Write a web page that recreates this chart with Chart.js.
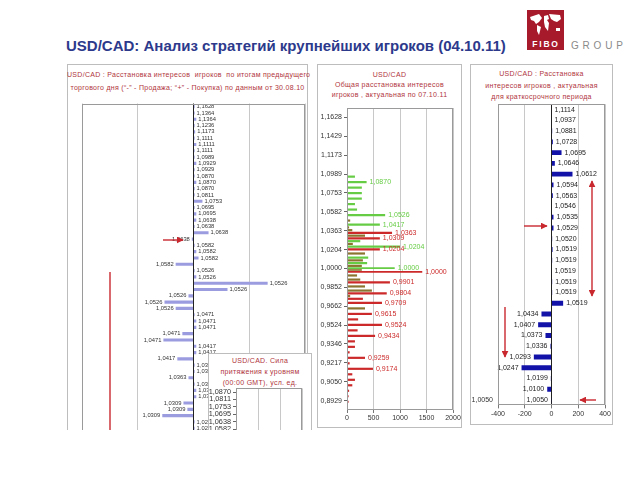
<!DOCTYPE html>
<html lang="ru">
<head>
<meta charset="UTF-8">
<meta name="viewport" content="width=device-width, initial-scale=1.0">
<title>USD/CAD: Анализ стратегий крупнейших игроков</title>
<script src="https://cdn.jsdelivr.net/npm/chart.js"></script>
<style>
  body { margin: 0; background: #fff; font-family: "Liberation Sans", Arial, sans-serif; }
  #page { position: relative; width: 640px; height: 480px; overflow: hidden; }
  #clip { position: absolute; left: 0; top: 0; width: 640px; height: 430px; overflow: hidden; }
  .box { position: absolute; box-sizing: border-box; border: 1px solid #bdbdbd; background: #fff; }
  .cap { position: absolute; color: #b0353d; font-size: 7px; text-align: center; white-space: nowrap; letter-spacing: .3px; }
  canvas { position: absolute; }
  #title { position: absolute; left: 66px; top: 37px; font-size: 15px; line-height: 18px; font-weight: bold; color: #2d3a8c; white-space: nowrap; }
  #logo { position: absolute; left: 527px; top: 10px; width: 37px; height: 40px; background: #a71a2c; }
  #group { position: absolute; left: 571px; top: 40px; font-size: 10px; letter-spacing: 3.8px; color: #8a8a8a; }
</style>
</head>
<body>
<div id="page">
  <div id="title">USD/CAD: Анализ стратегий крупнейших игроков (04.10.11)</div>
  <div id="logo">
    <svg width="37" height="40">
      <g fill="#fff">
        <path d="M3,7 L12,4 L15,8 L12,12 L9,14 L7,11 L4,10 Z"/>
        <path d="M10,15 L14,17 L12,25 L10,21 Z"/>
        <path d="M17,6 L21,5 L22,9 L20,10 L22,13 L21,21 L18,17 L17,12 Z"/>
        <path d="M22,4 L33,5 L34,9 L30,12 L27,11 L24,9 Z"/>
        <path d="M29,18 L33,18 L33,21 L29,21 Z"/>
      </g>
      <text x="19" y="37" fill="#fff" font-size="8.5" font-weight="bold" text-anchor="middle" letter-spacing="1.8" font-family="Liberation Sans, Arial">FIBO</text>
    </svg>
  </div>
  <div id="group">GROUP</div>

  <div id="clip">
    <div class="box" style="left:67px;top:64px;width:241px;height:420px"></div>
    <div class="box" style="left:317px;top:64px;width:145px;height:364px"></div>
    <div class="box" style="left:470px;top:64px;width:143px;height:361px"></div>

    <div class="cap" style="left:67px;width:241px;top:68px;line-height:13px">USD/CAD : Расстановка интересов &nbsp;игроков &nbsp;по итогам предыдущего<br>торгового дня (“-” - Продажа; “+” - Покупка) по данным от 30.08.10</div>
    <div class="cap" style="left:317px;width:145px;top:70px;line-height:10px">USD/CAD<br>Общая расстановка интересов<br>игроков , актуальная по 07.10.11</div>
    <div class="cap" style="left:470px;width:143px;top:68px;line-height:11.5px">USD/CAD : Расстановка<br>интересов игроков , актуальная<br>для краткосрочного периода</div>

    <canvas id="leftChart" width="226" height="344" style="left:81px;top:100px"></canvas>
    <canvas id="midChart" width="145" height="328" style="left:317px;top:100px"></canvas>
    <canvas id="rightChart" width="143" height="330" style="left:470px;top:95px"></canvas>

    <div class="box" style="left:208px;top:353px;width:104px;height:100px"></div>
    <div class="cap" style="left:208px;width:104px;top:354.5px;line-height:11px">USD/CAD. Сила<br>притяжения к уровням<br>(00:00 GMT), усл. ед.</div>
    <canvas id="insetChart" width="100" height="72" style="left:209px;top:382px"></canvas>

    <svg width="640" height="430" style="position:absolute;left:0;top:0">
      <defs>
        <marker id="ah" viewBox="0 0 10 10" refX="9" refY="5" markerWidth="5" markerHeight="5" orient="auto-start-reverse">
          <path d="M0,0 L10,5 L0,10 z" fill="#c8282e"/>
        </marker>
      </defs>
      <g stroke="#c8282e" stroke-width="1.4" fill="none">
        <line x1="110" y1="272" x2="110" y2="440"/>
        <line x1="163" y1="240" x2="183" y2="240" marker-end="url(#ah)"/>
        <line x1="524" y1="226" x2="547" y2="226" marker-end="url(#ah)"/>
        <line x1="592" y1="181" x2="592" y2="296" marker-start="url(#ah)" marker-end="url(#ah)"/>
        <line x1="505" y1="307" x2="505" y2="357" marker-end="url(#ah)"/>
        <line x1="596" y1="400" x2="580" y2="400" marker-end="url(#ah)"/>
      </g>
    </svg>
  </div>
</div>
<script>
// left panel: interest by the previous session, rows top to bottom ("-" sell, "+" buy)
const leftRows = [
  '1,1628','1,1364','1,1364','1,1236','1,1173','1,1111','1,1111','1,1111','1,0989','1,0929',
  '1,0929','1,0870','1,0870','1,0870','1,0811','1,0753','1,0695','1,0695','1,0638','1,0638',
  '1,0638','1,0638','1,0582','1,0582','1,0582','1,0582','1,0526','1,0526','1,0526','1,0526',
  '1,0526','1,0526','1,0526','1,0471','1,0471','1,0471','1,0471','1,0471','1,0417','1,0417',
  '1,0417','1,0363','1,0363','1,0363','1,0309','1,0309','1,0309','1,0309','1,0309','1,0309',
  '1,0256','1,0256','1,0256','1,0204'
];
const leftVals = [
  2, 2, 5, 2, 3, 2, 5, 2, 2, 5,
  2, 2, 5, 2, 2, 16, 2, 5, 5, 2,
  27, -3, 2, 5, 9, -32, 2, 5, 133, 61,
  -9, -52, -32, 2, 5, 5, -20, -54, 5, 5,
  -29, 2, 2, -9, 2, 5, 5, -18, -11, -56,
  2, 2, -20, 3
];

// middle panel: overall interest as of 07.10.11
const midRows = [
  '1,1765','1,1628','1,1561','1,1494','1,1429','1,1364','1,1299','1,1236','1,1173','1,1111',
  '1,1050','1,0989','1,0929','1,0870','1,0811','1,0753','1,0695','1,0638','1,0582','1,0526',
  '1,0471','1,0417','1,0363','1,0309','1,0256','1,0204','1,0152','1,0101','1,0050','1,0000',
  '0,9950','0,9901','0,9852','0,9804','0,9756','0,9709','0,9662','0,9615','0,9569','0,9524',
  '0,9479','0,9434','0,9390','0,9346','0,9302','0,9259','0,9217','0,9174','0,9132','0,9091',
  '0,9050','0,9009','0,8969','0,8929','0,8889'
];
const midGreen = [
  null, null, null, null, null, null, null, null, null, null,
  null, null, 150, 370, 280, 280, 280, 150, 190, 720,
  null, 620, null, null, 250, 1000, null, 400, 380, 900,
  null, null, null, null, null, null, null, null, null, null,
  null, null, null, null, null, null, null, null, null, null,
  null, null, null, null, null
];
const midOlive = [
  null, null, null, null, null, null, null, null, null, null,
  null, null, null, null, null, null, null, null, null, null,
  60, 40, 100, 340, 110, null, 340, 300, 280, 280,
  190, 250, 340, 470, 60, null, 340, null, null, null,
  null, null, null, null, null, null, null, null, null, null,
  null, null, null, null, null
];
const midRed = [
  null, null, null, null, null, null, null, null, null, null,
  null, null, null, null, null, null, null, null, null, null,
  null, null, 850, 620, null, 620, null, null, null, 1420,
  null, 810, null, 750, 300, 660, null, 470, 210, 660,
  200, 530, 150, 150, 50, 340, 50, 490, 100, 150,
  100, 40, 30, 30, null
];
// axis labels printed along the left side (evenly spaced in the original)
const midTicks = ['1,1628','1,1429','1,1173','1,0989','1,0753','1,0582','1,0363','1,0204',
  '1,0000','0,9852','0,9662','0,9524','0,9346','0,9217','0,9050','0,8929'];
const midGreenTags = ['1,0870','1,0526','1,0417','1,0204','1,0000'];
const midRedTags = ['1,0363','1,0309','1,0204','1,0000','0,9901','0,9804','0,9709','0,9615',
  '0,9524','0,9434','0,9259','0,9174'];

// right panel: short-term interest
const rightRows = [
  '1,1114','1,0937','1,0881','1,0728','1,0695','1,0646','1,0612','1,0594','1,0563','1,0546',
  '1,0535','1,0529','1,0520','1,0519','1,0519','1,0519','1,0519','1,0519','1,0519','1,0434',
  '1,0407','1,0373','1,0336','1,0293','1,0247','1,0199','1,0100','1,0050'
];
const rightVals = [
  0, 0, 5, 10, 75, 25, 157, 15, 10, 0,
  15, 15, 5, 8, 5, 0, 5, 5, 87, -75,
  -100, -45, -8, -132, -224, -5, -32, -3
];

// inset: attraction to levels (00:00 GMT)
const insetRows = ['1,0870','1,0811','1,0753','1,0695','1,0638','1,0582','1,0526','1,0471'];
const insetVals = [0, 0, 0, 0, 0, 0, 0, 0];

Chart.defaults.font.family = '"Liberation Sans", Arial, sans-serif';
Chart.defaults.animation = false;

Chart.register({
  id: 'frame',
  afterDraw(chart, args, o) {
    const a = chart.chartArea, c = chart.ctx;
    c.save();
    c.strokeStyle = o.color || '#999';
    c.lineWidth = 1;
    c.strokeRect(Math.round(a.left) + 0.5, Math.round(a.top) + 0.5,
      Math.round(a.right - a.left) - 1, Math.round(a.bottom - a.top) - 1);
    c.restore();
  }
});

// text next to the end of each bar, taken from its category
function barTags(o) {
  return {
    id: 'tags',
    afterDatasetsDraw(chart) {
      const c = chart.ctx;
      chart.data.datasets.forEach((ds, di) => {
        chart.getDatasetMeta(di).data.forEach((bar, i) => {
          const v = ds.data[i];
          if (v === null || v === undefined) return;
          const text = chart.data.labels[i];
          if (o.show && !o.show(di, text)) return;
          c.save();
          c.font = o.font;
          c.fillStyle = o.color(di);
          c.textBaseline = 'middle';
          if (v >= 0) {
            c.textAlign = 'left';
            c.fillText(text, Math.max(bar.x, bar.base) + o.gap, bar.y);
          } else {
            c.textAlign = 'right';
            c.fillText(text, Math.min(bar.x, bar.base) - o.gap, bar.y);
          }
          c.restore();
        });
      });
    }
  };
}

const noLegend = { legend: { display: false }, tooltip: { enabled: false } };
const zeroDark = c => (c.tick && c.tick.value === 0) ? '#222' : '#c8c8c8';

new Chart(document.getElementById('leftChart'), {
  type: 'bar',
  data: {
    labels: leftRows,
    datasets: [{ data: leftVals, backgroundColor: '#9b9be0', barPercentage: 0.5, categoryPercentage: 1 }]
  },
  options: {
    indexAxis: 'y', responsive: false,
    layout: { padding: { left: 1, right: 2, top: 3.5, bottom: 0 } },
    plugins: Object.assign({ frame: { color: '#9a9a9a' } }, noLegend),
    scales: {
      x: {
        min: -200, max: 200,
        ticks: { display: false, stepSize: 100 },
        grid: { drawTicks: false, color: zeroDark },
        border: { display: false },
        afterFit: s => { s.height = 0; }
      },
      y: { display: false }
    }
  },
  plugins: [barTags({ font: '5.8px "Liberation Sans"', color: () => '#333', gap: 2 })]
});

const midColors = ['#66cc44', '#8a7430', '#cc2a2a'];
new Chart(document.getElementById('midChart'), {
  type: 'bar',
  data: {
    labels: midRows,
    datasets: [
      { label: 'Покупка', data: midGreen, backgroundColor: midColors[0] },
      { label: 'Прошлое', data: midOlive, backgroundColor: midColors[1] },
      { label: 'Продажа', data: midRed, backgroundColor: midColors[2] }
    ].map(d => Object.assign(d, { skipNull: true, barPercentage: 0.9, categoryPercentage: 1, maxBarThickness: 2.2 }))
  },
  options: {
    indexAxis: 'y', responsive: false,
    layout: { padding: { left: 0, right: 9, top: 8, bottom: 0 } },
    plugins: Object.assign({ frame: { color: '#9a9a9a' } }, noLegend),
    scales: {
      x: {
        min: 0, max: 2000,
        ticks: { stepSize: 500, font: { size: 7 }, color: '#333', padding: 1, callback: v => v },
        grid: { color: '#c8c8c8', tickLength: 3, tickColor: '#777' },
        border: { display: false },
        afterFit: s => { s.height = 18; }
      },
      y: { display: false },
      // evenly spaced level labels, one per band of the plot height
      yt: {
        type: 'linear', position: 'left', min: 0, max: midTicks.length, reverse: true, offset: false,
        afterBuildTicks: s => { s.ticks = midTicks.map((t, i) => ({ value: i + 0.5 })); },
        ticks: { autoSkip: false, font: { size: 7 }, color: '#333', padding: 2, callback: (v, i) => midTicks[i] },
        grid: { offset: false, drawOnChartArea: false, tickLength: 3, color: '#666' },
        border: { display: false },
        afterFit: s => { s.width = 30; }
      }
    }
  },
  plugins: [barTags({
    font: '7px "Liberation Sans"', gap: 3,
    color: di => midColors[di],
    show: (di, t) => di === 0 ? midGreenTags.includes(t) : di === 2 ? midRedTags.includes(t) : false
  })]
});

new Chart(document.getElementById('rightChart'), {
  type: 'bar',
  data: {
    labels: rightRows,
    datasets: [{ data: rightVals, backgroundColor: '#1212a8', barPercentage: 0.46, categoryPercentage: 1 }]
  },
  options: {
    indexAxis: 'y', responsive: false,
    layout: { padding: { left: 0, right: 8, top: 6.6, bottom: 0 } },
    plugins: Object.assign({ frame: { color: '#9a9a9a' } }, noLegend),
    scales: {
      x: {
        min: -400, max: 400,
        ticks: { stepSize: 200, font: { size: 7 }, color: '#333', padding: 1, callback: v => v },
        grid: { color: zeroDark, tickLength: 3, tickColor: '#777' },
        border: { display: false },
        afterFit: s => { s.height = 19.6; }
      },
      y: {
        ticks: {
          autoSkip: false, font: { size: 7 }, color: '#333', padding: 5,
          callback: (v, i) => i === rightRows.length - 1 ? rightRows[i] : ''
        },
        grid: { display: false, drawTicks: false },
        border: { display: false },
        afterFit: s => { s.width = 28; }
      }
    }
  },
  plugins: [barTags({ font: '7px "Liberation Sans"', color: () => '#222', gap: 3 })]
});

new Chart(document.getElementById('insetChart'), {
  type: 'bar',
  data: {
    labels: insetRows,
    datasets: [{ data: insetVals, backgroundColor: '#9b9be0', barPercentage: 0.5, categoryPercentage: 1 }]
  },
  options: {
    indexAxis: 'y', responsive: false,
    layout: { padding: { left: 0, right: 7, top: 4.5, bottom: 0 } },
    plugins: Object.assign({ frame: { color: '#9a9a9a' } }, noLegend),
    scales: {
      x: {
        min: 0, max: 300,
        ticks: { display: false, stepSize: 100 },
        grid: { drawTicks: false, color: '#c8c8c8' },
        border: { display: false },
        afterFit: s => { s.height = 0; }
      },
      y: {
        ticks: { autoSkip: false, font: { size: 7.3 }, color: '#333', padding: 2 },
        grid: { offset: false, drawOnChartArea: false, tickLength: 3, color: '#666' },
        border: { display: false },
        afterFit: s => { s.width = 27; }
      }
    }
  }
});
</script>
</body>
</html>
